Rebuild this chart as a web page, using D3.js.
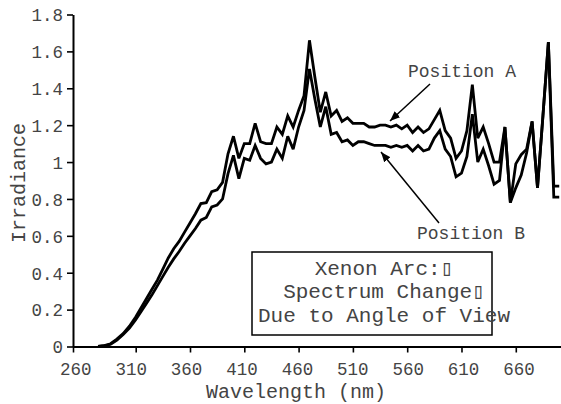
<!DOCTYPE html>
<html><head><meta charset="utf-8">
<script src="https://cdn.jsdelivr.net/npm/d3@7"></script>
<style>body{margin:0;background:#fff}svg{display:block}</style>
</head><body><svg id="c" width="561" height="404"></svg>
<script>
const wavelengths = [280,285,290,295,300,305,310,315,320,325,330,335,340,345,350,355,360,365,370,375,380,385,390,395,400,405,410,415,420,425,430,435,440,445,450,455,460,465,470,475,480,485,490,495,500,505,510,515,520,525,530,535,540,545,550,555,560,565,570,575,580,585,590,595,600,605,610,615,620,625,630,635,640,645,650,655,660,665,670,675,680,685,690,695,700];
const positionA = [0,0.005,0.015,0.04,0.07,0.11,0.16,0.21,0.26,0.31,0.36,0.42,0.48,0.53,0.57,0.62,0.67,0.72,0.775,0.78,0.84,0.85,0.89,1.045,1.14,1.02,1.10,1.10,1.21,1.11,1.10,1.10,1.19,1.15,1.25,1.19,1.28,1.36,1.66,1.46,1.27,1.38,1.25,1.28,1.22,1.24,1.21,1.21,1.21,1.19,1.19,1.20,1.20,1.19,1.20,1.18,1.20,1.16,1.19,1.16,1.18,1.23,1.28,1.17,1.13,1.02,1.06,1.17,1.42,1.13,1.19,1.10,1.00,1.00,1.19,0.78,0.99,1.04,1.07,1.22,0.86,1.25,1.65,0.87,0.87];
const positionB = [0,0.004,0.012,0.035,0.065,0.10,0.145,0.19,0.235,0.28,0.33,0.38,0.43,0.475,0.515,0.56,0.60,0.64,0.685,0.70,0.757,0.767,0.80,0.937,1.036,0.91,1.02,1.01,1.09,1.02,0.99,1.00,1.07,1.02,1.14,1.07,1.19,1.28,1.505,1.34,1.19,1.30,1.15,1.16,1.11,1.12,1.09,1.11,1.11,1.10,1.09,1.09,1.09,1.08,1.09,1.08,1.09,1.06,1.09,1.06,1.07,1.13,1.17,1.07,1.03,0.92,0.94,1.03,1.26,1.00,1.07,0.98,0.88,0.90,1.19,0.78,0.86,0.93,1.05,1.22,0.86,1.25,1.65,0.81,0.81];
const xTickValues = [260,310,360,410,460,510,560,610,660];
const yTickValues = [0,0.2,0.4,0.6,0.8,1,1.2,1.4,1.6,1.8];
const xTitle = "Wavelength (nm)";
const yTitle = "Irradiance";
const seriesLabels = ["Position A", "Position B"];
const noteLines = ["Xenon Arc:\u25AF", "Spectrum Change\u25AF", "Due to Angle of View"];

const svg = d3.select("#c");
svg.append("rect").attr("width",561).attr("height",404).attr("fill","#fff");
const FONT = "'Liberation Mono','Courier New',monospace";
const TXT = "#444";

const x = d3.scaleLinear().domain([260,310,702]).range([73,135.7,561.4]);
const xLabel = d3.scaleLinear().domain([260,660]).range([75.3,518.5]);
const y = d3.scaleLinear().domain([0,1.8]).range([346.5,14.5]);

// data lines
const line = d3.line().x((d,i)=>x(wavelengths[i])).y(d=>y(d));
[positionA, positionB].forEach(s=>{
  svg.append("path").datum(s).attr("d",line)
    .attr("fill","none").attr("stroke","#000").attr("stroke-width",2.8)
    .attr("stroke-linejoin","miter").attr("stroke-miterlimit",3);
});

// axes
const xAxis = svg.append("g").attr("transform","translate(0,346.5)")
  .call(d3.axisBottom(x).tickValues(xTickValues).tickSize(6).tickSizeOuter(0).tickFormat(d3.format("d")));
xAxis.selectAll("text").attr("dy",null).attr("y",28).attr("x",d=>xLabel(d)-x(d));
const yAxis = svg.append("g").attr("transform","translate(73,0)")
  .call(d3.axisLeft(y).tickValues(yTickValues).tickSize(6).tickSizeOuter(0).tickFormat(d=>String(+d.toFixed(1))));
yAxis.selectAll("text").attr("x",-10).attr("dy","0.36em");
[xAxis,yAxis].forEach(g=>{
  g.select(".domain").attr("stroke","#000").attr("stroke-width",2);
  g.selectAll(".tick line").attr("stroke","#000").attr("stroke-width",1.6);
  g.selectAll("text").attr("font-family",FONT).attr("font-size",17.5).attr("fill",TXT);
});

// axis titles
svg.append("text").attr("x",296).attr("y",398).attr("text-anchor","middle")
  .attr("font-family",FONT).attr("font-size",20).attr("fill",TXT).text(xTitle);
svg.append("text").attr("transform","translate(25,183) rotate(-90)").attr("text-anchor","middle")
  .attr("font-family",FONT).attr("font-size",20).attr("fill",TXT).text(yTitle);

// annotations
const defs = svg.append("defs");
defs.append("marker").attr("id","ah").attr("viewBox","0 0 10 10").attr("refX",10).attr("refY",5)
  .attr("markerWidth",10).attr("markerHeight",10).attr("markerUnits","userSpaceOnUse").attr("orient","auto")
  .append("path").attr("d","M0,1L10,5L0,9Z").attr("fill","#000");
svg.append("line").attr("x1",430).attr("y1",84).attr("x2",390).attr("y2",121)
  .attr("stroke","#000").attr("stroke-width",1.5).attr("marker-end","url(#ah)");
svg.append("line").attr("x1",439).attr("y1",223).attr("x2",381).attr("y2",152)
  .attr("stroke","#000").attr("stroke-width",1.5).attr("marker-end","url(#ah)");
svg.append("text").attr("x",462).attr("y",77).attr("text-anchor","middle")
  .attr("font-family",FONT).attr("font-size",18).attr("fill",TXT).text(seriesLabels[0]);
svg.append("text").attr("x",471).attr("y",239).attr("text-anchor","middle")
  .attr("font-family",FONT).attr("font-size",18).attr("fill",TXT).text(seriesLabels[1]);

// note box
svg.append("rect").attr("x",252).attr("y",252).attr("width",240).attr("height",83)
  .attr("fill","#fff").attr("stroke","#000").attr("stroke-width",1.5);
const note = svg.append("text").attr("text-anchor","middle")
  .attr("font-family",FONT).attr("font-size",21).attr("fill",TXT);
noteLines.forEach((t,i)=>note.append("tspan").attr("x",384).attr("y",275+i*23.4).text(t));
</script>
</body></html>
